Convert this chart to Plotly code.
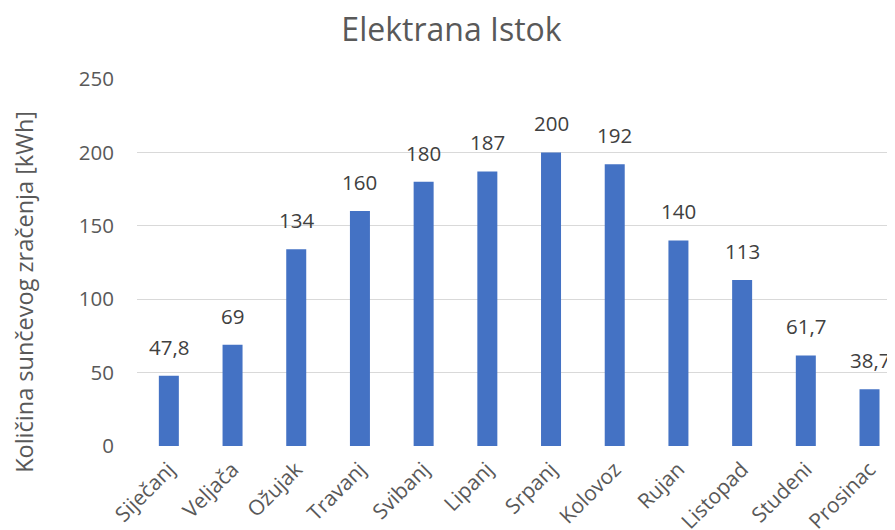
import plotly.graph_objects as go

months = ["Siječanj", "Veljača", "Ožujak", "Travanj", "Svibanj", "Lipanj",
          "Srpanj", "Kolovoz", "Rujan", "Listopad", "Studeni", "Prosinac"]
values = [47.8, 69, 134, 160, 180, 187, 200, 192, 140, 113, 61.7, 38.7]
y_ticks = [0, 50, 100, 150, 200, 250]

FONT = "Open Sans"
GRAY = "#595959"

labels = [("%g" % v).replace(".", ",") for v in values]

fig = go.Figure()
fig.add_trace(go.Bar(
    x=list(range(len(months))), y=values,
    marker=dict(color="#4472C4", line=dict(width=0)),
    width=0.314,
    hoverinfo="skip",
))

for i, (v, t) in enumerate(zip(values, labels)):
    fig.add_annotation(x=i, y=v, text=t, showarrow=False, yanchor="bottom",
                       yshift=13, font=dict(family=FONT, size=20.5, color="#404040"))

fig.add_annotation(xref="paper", yref="paper", x=0, y=0.42, xshift=-113,
                   text="Količina sunčevog zračenja [kWh]", textangle=-90,
                   showarrow=False, xanchor="center", yanchor="middle",
                   font=dict(family=FONT, size=23.5, color=GRAY))

fig.update_layout(
    width=887, height=522,
    margin=dict(l=129, r=0, t=71, b=84, autoexpand=False),
    paper_bgcolor="white", plot_bgcolor="white",
    showlegend=False,
    title=dict(text="Elektrana Istok", x=0.5, xanchor="center", y=0.958,
               yanchor="middle", font=dict(family=FONT, size=32, color=GRAY)),
    xaxis=dict(range=[-0.5, 11.4], tickmode="array",
               tickvals=list(range(len(months))), ticktext=months,
               tickangle=-45, showgrid=False, zeroline=False,
               ticklabelstandoff=6, automargin=False,
               tickfont=dict(family=FONT, size=21, color=GRAY),
               showline=False),
    yaxis=dict(range=[0, 250], tickmode="array", tickvals=y_ticks,
               showgrid=True, gridcolor="#d9d9d9", gridwidth=1,
               zeroline=False, ticklabelstandoff=22, automargin=False,
               tickfont=dict(family=FONT, size=20.5, color=GRAY)),
)

fig.write_html("out.html")
